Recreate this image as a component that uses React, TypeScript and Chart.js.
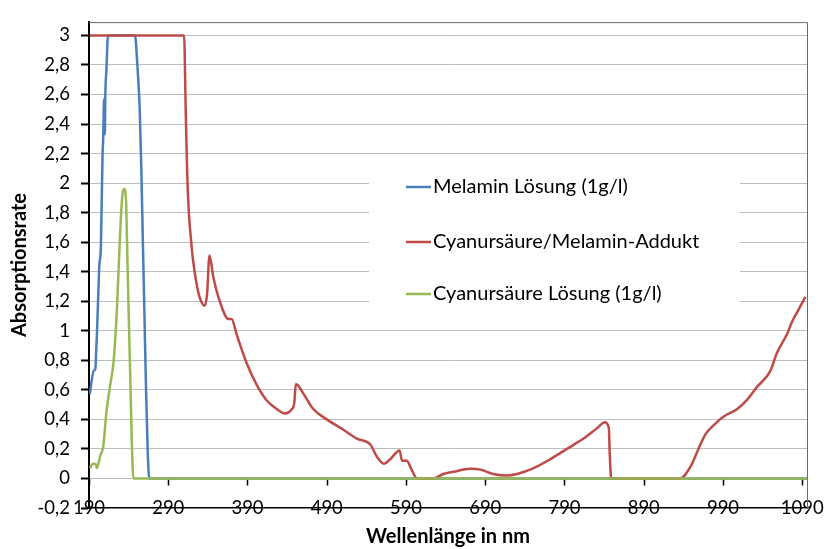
import React, { useEffect, useRef } from "react";
import { Chart, registerables } from "chart.js";

Chart.register(...registerables);

// ---- data (wavelength nm, absorbance) ----
const MELAMIN_NM = [191, 196, 198, 199, 200, 202, 203, 205, 207, 208, 209, 210, 210.5, 212, 214, 248, 251, 254, 256, 258, 260, 262, 264, 266, 1096];
const MELAMIN_ABS = [0.57, 0.73, 0.74, 0.85, 0.98, 1.29, 1.44, 1.57, 2.17, 2.32, 2.57, 2.33, 2.57, 2.77, 3, 3, 2.8, 2.5, 2.1, 1.6, 1.1, 0.6, 0.2, 0, 0];

const ADDUKT_NM = [191, 310, 312, 314, 316, 318, 321, 326, 330, 336, 339, 342, 347, 355, 366, 370, 376, 389, 402, 414, 427, 437, 446, 449, 451, 461, 473, 490, 511, 528, 545, 553, 562, 570, 582, 585, 591, 597, 604, 624, 637, 650, 671, 684, 700, 717, 730, 751, 772, 793, 814, 831, 841, 846, 847, 849, 936, 949, 959, 968, 978, 991, 1008, 1020, 1033, 1050, 1058, 1071, 1077, 1084, 1090, 1094];
const ADDUKT_ABS = [3, 3, 2.5, 2.05, 1.8, 1.66, 1.49, 1.31, 1.22, 1.17, 1.25, 1.51, 1.36, 1.2, 1.08, 1.08, 0.98, 0.78, 0.63, 0.53, 0.47, 0.44, 0.47, 0.51, 0.64, 0.57, 0.47, 0.4, 0.33, 0.27, 0.23, 0.15, 0.1, 0.13, 0.19, 0.12, 0.12, 0.06, 0, 0, 0.03, 0.045, 0.065, 0.06, 0.03, 0.02, 0.03, 0.07, 0.13, 0.2, 0.27, 0.34, 0.38, 0.34, 0.18, 0, 0, 0.08, 0.2, 0.3, 0.36, 0.42, 0.47, 0.53, 0.62, 0.73, 0.85, 0.98, 1.06, 1.13, 1.19, 1.23];

const CYANUR_NM = [191, 195, 198, 200, 204, 208, 212, 217, 221, 225, 228, 231, 233, 235, 237, 239, 242, 244, 246, 1096];
const CYANUR_ABS = [0.07, 0.1, 0.1, 0.07, 0.15, 0.22, 0.45, 0.64, 0.79, 1.12, 1.5, 1.84, 1.95, 1.96, 1.84, 1.35, 0.7, 0.25, 0, 0];

const SERIES_LABELS = ["Melamin Lösung (1g/l)", "Cyanursäure/Melamin-Addukt", "Cyanursäure Lösung (1g/l)"];
const SERIES_COLORS = ["#4A7EBB", "#BE4B48", "#98B954"];

const TICKS_X = [190, 290, 390, 490, 590, 690, 790, 890, 990, 1090];
const TICKS_Y = [-0.2, 0, 0.2, 0.4, 0.6, 0.8, 1, 1.2, 1.4, 1.6, 1.8, 2, 2.2, 2.4, 2.6, 2.8, 3];

const X_TITLE = "Wellenlänge in nm";
const Y_TITLE = "Absorptionsrate";

const FONT = "Lato, 'Open Sans', sans-serif";

function pts(xs: number[], ys: number[]) {
  return xs.map((x, i) => ({ x, y: ys[i] }));
}

const frame = {
  id: "frame",
  beforeDatasetsDraw(chart: any) {
    const { ctx, chartArea, scales } = chart;
    ctx.save();
    // legend box
    ctx.fillStyle = "#ffffff";
    ctx.fillRect(369, 162, 371, 150);
    // top / right borders
    ctx.strokeStyle = "#6b6b6b";
    ctx.lineWidth = 1;
    ctx.beginPath();
    ctx.moveTo(chartArea.left, chartArea.top + 0.5);
    ctx.lineTo(chartArea.right + 0.5, chartArea.top + 0.5);
    ctx.lineTo(chartArea.right + 0.5, chartArea.bottom);
    ctx.stroke();
    // x tick marks at y = 0
    const y0 = scales.y.getPixelForValue(0);
    ctx.strokeStyle = "#000";
    ctx.lineWidth = 1.5;
    ctx.beginPath();
    TICKS_X.forEach((t) => {
      const px = Math.round(scales.x.getPixelForValue(t)) + 0.5;
      ctx.moveTo(px, y0);
      ctx.lineTo(px, y0 + 7);
    });
    ctx.stroke();
    ctx.restore();
  },
  afterDraw(chart: any) {
    const { ctx } = chart;
    ctx.save();
    const rows = [187, 242, 294];
    ctx.font = `20px ${FONT}`;
    ctx.textBaseline = "middle";
    ctx.textAlign = "left";
    chart.data.datasets.forEach((ds: any, i: number) => {
      const y = rows[i];
      ctx.strokeStyle = ds.borderColor;
      ctx.lineWidth = 2.5;
      ctx.beginPath();
      ctx.moveTo(406, y);
      ctx.lineTo(431, y);
      ctx.stroke();
      ctx.fillStyle = "#000";
      ctx.fillText(ds.label, 433, y);
    });
    ctx.restore();
  },
};

export default function App() {
  const ref = useRef<HTMLCanvasElement>(null);
  useEffect(() => {
    if (!ref.current) return;
    const data = [pts(MELAMIN_NM, MELAMIN_ABS), pts(ADDUKT_NM, ADDUKT_ABS), pts(CYANUR_NM, CYANUR_ABS)];
    const chart = new Chart(ref.current, {
      type: "scatter",
      data: {
        datasets: data.map((d, i) => ({
          label: SERIES_LABELS[i],
          data: d,
          showLine: true,
          borderColor: SERIES_COLORS[i],
          backgroundColor: SERIES_COLORS[i],
          borderWidth: 2.5,
          pointRadius: 0,
          cubicInterpolationMode: "monotone",
          order: 3 - i,
        })),
      },
      plugins: [frame],
      options: {
        animation: false,
        responsive: false,
        maintainAspectRatio: false,
        layout: { padding: { left: 0, right: 22, top: 10, bottom: 0 } },
        plugins: { legend: { display: false }, tooltip: { enabled: false } },
        scales: {
          x: {
            type: "linear",
            min: 190,
            max: 1096,
            afterBuildTicks: (s: any) => {
              s.ticks = TICKS_X.map((v) => ({ value: v }));
            },
            afterFit: (s: any) => {
              s.height = 41;
            },
            grid: { display: true, drawOnChartArea: false, drawTicks: false },
            border: { display: true, color: "#000", width: 1.5 },
            ticks: {
              mirror: true,
              padding: -11,
              color: "#000",
              font: { family: FONT, size: 18.5 },
              maxRotation: 0,
              autoSkip: false,
              callback: (v: any) => String(v),
            },
            title: {
              display: true,
              text: X_TITLE,
              color: "#000",
              font: { family: FONT, size: 20, weight: "bold" },
              padding: { top: 0, bottom: 0 },
            },
          },
          y: {
            type: "linear",
            min: -0.2,
            max: 3.09,
            afterBuildTicks: (s: any) => {
              s.ticks = TICKS_Y.map((v) => ({ value: v }));
            },
            afterFit: (s: any) => {
              s.width = 89;
            },
            grid: {
              color: (c: any) => (c.tick && c.tick.value === -0.2 ? "rgba(0,0,0,0)" : "#bdbdbd"),
              lineWidth: 1,
              tickLength: 8,
              tickColor: "#000",
              tickWidth: 2,
            },
            border: { display: true, color: "#000", width: 2 },
            ticks: {
              padding: 11,
              color: "#000",
              font: { family: FONT, size: 18.5 },
              autoSkip: false,
              callback: (v: any) => String(Number(Number(v).toFixed(1))).replace(".", ","),
            },
            title: {
              display: true,
              text: Y_TITLE,
              color: "#000",
              font: { family: FONT, size: 20, weight: "bold" },
              padding: { top: 8, bottom: 0 },
            },
          },
        },
      },
    });
    return () => chart.destroy();
  }, []);
  return (
    <div style={{ position: "fixed", left: 0, top: 0, width: 829, height: 549, background: "#fff" }}>
      <canvas ref={ref} width={829} height={549} style={{ width: 829, height: 549, display: "block" }} />
    </div>
  );
}
